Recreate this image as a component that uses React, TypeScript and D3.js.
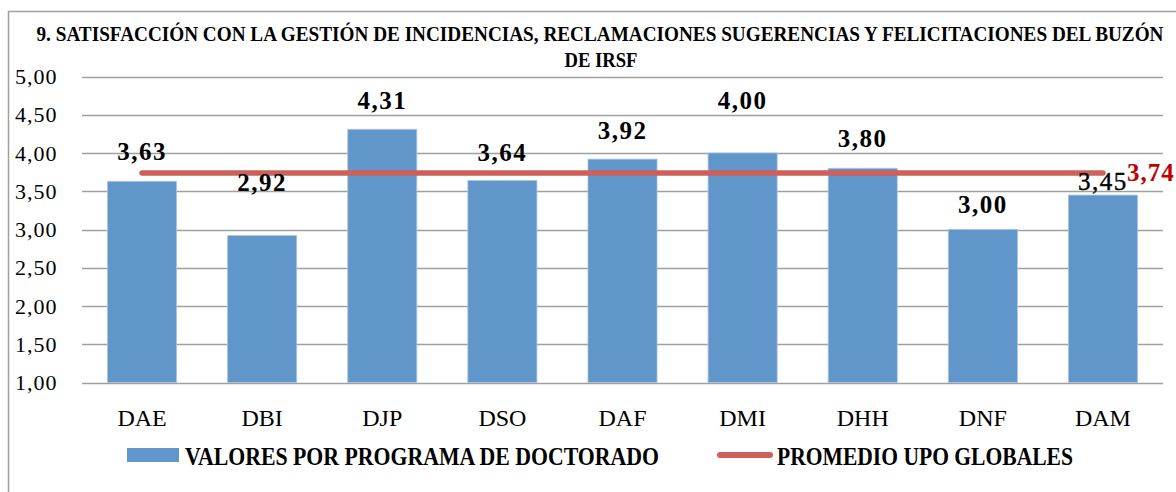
import React from 'react';
import * as d3 from 'd3';

const programas = ['DAE', 'DBI', 'DJP', 'DSO', 'DAF', 'DMI', 'DHH', 'DNF', 'DAM'];
const valores = [3.63, 2.92, 4.31, 3.64, 3.92, 4.0, 3.8, 3.0, 3.45];
const promedio = 3.74;
const yTicks = [1, 1.5, 2, 2.5, 3, 3.5, 4, 4.5, 5];

// manual label offsets above each bar (as placed in the original sheet)
const labelLift = [21, 45, 20, 20, 20, 44, 21, 17, 5];
const labelBold = [true, true, true, true, true, true, true, true, false];

const titleLines = [
  '9. SATISFACCIÓN CON LA GESTIÓN DE INCIDENCIAS, RECLAMACIONES SUGERENCIAS Y FELICITACIONES DEL BUZÓN',
  'DE IRSF',
];
const legendBars = 'VALORES POR PROGRAMA DE DOCTORADO';
const legendLine = 'PROMEDIO UPO GLOBALES';

const W = 1176;
const H = 492;
const plot = { left: 82, right: 1163, top: 76.5, bottom: 382.5 };
const serif = "'Liberation Serif', Cambria, serif";
const fmt = (v: number) => v.toFixed(2).replace('.', ',');

export default function App() {
  const x = d3.scaleBand<string>()
    .domain(programas)
    .range([plot.left, plot.right])
    .paddingInner(0.425)
    .paddingOuter(0.2125);
  const y = d3.scaleLinear().domain([1, 5]).range([plot.bottom, plot.top]);

  const cx = (c: string) => (x(c) as number) + x.bandwidth() / 2;
  const linePath = d3.line<string>()
    .x(d => cx(d))
    .y(() => y(promedio))(programas) as string;

  const last = programas[programas.length - 1];

  return (
    <svg width={W} height={H} style={{ position: 'absolute', left: 0, top: 0, background: '#fff' }}
      fontFamily={serif}>
      <rect x={8.5} y={11.5} width={1200} height={520} fill="#fff" stroke="#a0a0a0" strokeWidth={1.5} />

      {/* title */}
      <text x={600} y={41} textAnchor="middle" fontWeight="bold" fontSize={20.5}
        textLength={1127} lengthAdjust="spacingAndGlyphs">{titleLines[0]}</text>
      <text x={601} y={67} textAnchor="middle" fontWeight="bold" fontSize={20.5}
        textLength={73} lengthAdjust="spacingAndGlyphs">{titleLines[1]}</text>

      {/* grid + y axis */}
      {yTicks.map(t => (
        <g key={t}>
          <line x1={plot.left} x2={plot.right} y1={Math.round(y(t)) + 0.5} y2={Math.round(y(t)) + 0.5}
            stroke="#a0a0a0" strokeWidth={1.5} />
          <text x={15} y={y(t) + 7.5} fontSize={22} letterSpacing={1} fill="#000">{fmt(t)}</text>
        </g>
      ))}

      {/* bars */}
      {programas.map((c, i) => (
        <rect key={c} x={x(c)} y={y(valores[i])} width={x.bandwidth()}
          height={y(1) - y(valores[i])} fill="#6096c9" stroke="#a9c4e0" strokeWidth={0.8} />
      ))}

      {/* average line */}
      <path d={linePath} fill="none" stroke="#cd605a" strokeWidth={5.5} strokeLinecap="round" />

      {/* value labels */}
      {programas.map((c, i) => (
        <text key={c} x={cx(c)} y={y(valores[i]) - labelLift[i]} textAnchor="middle"
          fontSize={25} letterSpacing={1.5} fontWeight={labelBold[i] ? 'bold' : 'normal'}
          stroke={labelBold[i] ? 'none' : '#000'} strokeWidth={0.4}>
          {fmt(valores[i])}
        </text>
      ))}
      <text x={cx(last) + 24} y={y(promedio) + 8} fontSize={25} letterSpacing={1}
        fontWeight="bold" fill="#c00000">{fmt(promedio)}</text>

      {/* x axis labels */}
      {programas.map(c => (
        <text key={c} x={cx(c)} y={426} textAnchor="middle" fontSize={24}>{c}</text>
      ))}

      {/* legend */}
      <rect x={127} y={448} width={52} height={14} fill="#6096c9" />
      <text x={185} y={465} fontSize={25} fontWeight="bold" textLength={474}
        lengthAdjust="spacingAndGlyphs">{legendBars}</text>
      <line x1={720} x2={770} y1={455} y2={455} stroke="#cd605a" strokeWidth={6} strokeLinecap="round" />
      <text x={777} y={465} fontSize={25} fontWeight="bold" textLength={296}
        lengthAdjust="spacingAndGlyphs">{legendLine}</text>
    </svg>
  );
}
